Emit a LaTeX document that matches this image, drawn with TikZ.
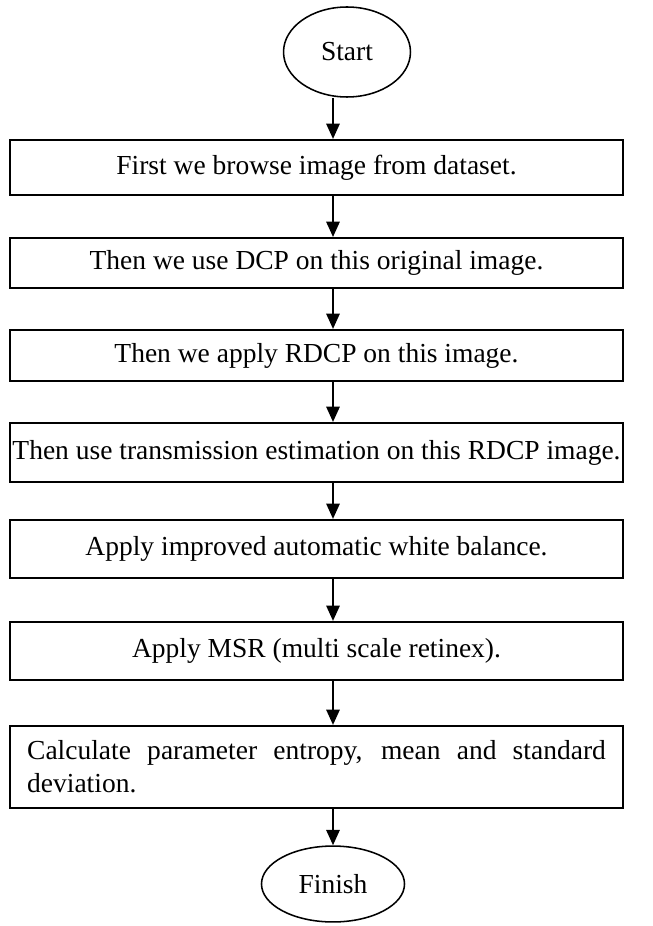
\documentclass[tikz,border=0pt]{standalone}
\usepackage{fontspec}
\setmainfont{Liberation Serif}
\usetikzlibrary{shapes.geometric,arrows.meta,positioning}
\tikzstyle{startstop} = [ellipse, draw=black, line width=0.7pt, inner sep=0pt, text centered]
\tikzstyle{process}   = [rectangle, draw=black, line width=0.9pt, inner xsep=1pt, minimum width=278.6pt, text centered]
\tikzstyle{arrow}     = [line width=1.1pt,-{Triangle[width=6pt,length=7pt]}]

\begin{document}
\begin{tikzpicture}[x=0.4545pt, y=-0.4545pt, font=\fontsize{12.5}{15}\selectfont]
	\useasboundingbox (0,0) rectangle (652,926);

	\node[startstop, minimum width=57.7pt, minimum height=40.9pt] (start) at (347,52) {Start};
	\node[process, minimum height=25pt]   (b1) at (316.5,167.5) {First we browse image from dataset.};
	\node[process, minimum height=22.7pt] (b2) at (316.5,263)   {Then we use DCP on this original image.};
	\node[process, minimum height=23.2pt] (b3) at (316.5,355.5) {Then we apply RDCP on this image.};
	\node[process, minimum height=26.8pt] (b4) at (316.5,452.5) {Then use transmission estimation on this RDCP image.};
	\node[process, minimum height=26.4pt] (b5) at (316.5,549)   {Apply improved automatic white balance.};
	\node[process, minimum height=26.4pt] (b6) at (316.5,651)   {Apply MSR (multi scale retinex).};
	\node[process, minimum height=37.3pt, text width=263pt, inner xsep=7.8pt, align=justify] (b7) at (316.5,767)
		{Calculate parameter entropy, mean and standard \mbox{deviation.}};
	\node[startstop, minimum width=65pt, minimum height=34.5pt] (finish) at (333,884) {Finish};

	% connectors
	\draw[arrow] (start.south -| finish.north) -- (b1.north -| finish.north);
	\foreach \a/\b in {b1/b2,b2/b3,b3/b4,b4/b5,b5/b6,b6/b7}
		\draw[arrow] (\a.south -| finish.north) -- (\b.north -| finish.north);
	\draw[arrow] (b7.south -| finish.north) -- (finish.north);
\end{tikzpicture}
\end{document}
